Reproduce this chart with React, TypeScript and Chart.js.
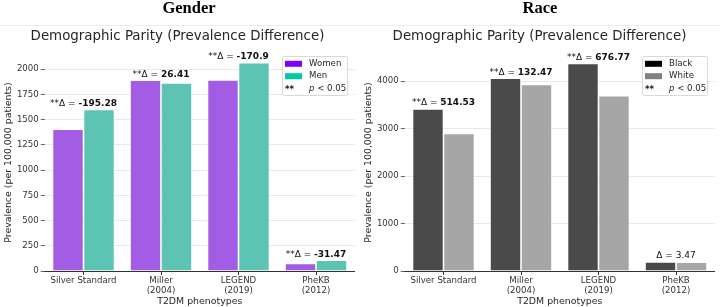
import React, { useEffect, useRef } from "react";
import { Chart, registerables } from "chart.js";

Chart.register(...registerables);

// ---------------- data ----------------
const categories: string[][] = [
  ["Silver Standard"],
  ["Miller", "(2004)"],
  ["LEGEND", "(2019)"],
  ["PheKB", "(2012)"],
];

const womenPrevalence = [1405, 1890, 1893, 76];
const menPrevalence = [1600, 1864, 2064, 108];
const genderDeltas = ["-195.28", "26.41", "-170.9", "-31.47"];
const genderSignificant = [true, true, true, true];
const genderTicks = [0, 250, 500, 750, 1000, 1250, 1500, 1750, 2000];
const genderMax = 2150;

const blackPrevalence = [3412, 4062, 4370, 190];
const whitePrevalence = [2898, 3930, 3693, 187];
const raceDeltas = ["514.53", "132.47", "676.77", "3.47"];
const raceSignificant = [true, true, true, false];
const raceTicks = [0, 1000, 2000, 3000, 4000];
const raceMax = 4570;

const FONT = "'DejaVu Sans', sans-serif";

type PanelProps = {
  heading: string;
  headingX: number;
  subtitleX: number;
  labels: [string, string];
  values: [number[], number[]];
  barColors: [string, string];
  legendColors: [string, string];
  deltas: string[];
  significant: boolean[];
  ticks: number[];
  max: number;
};

function Panel(props: PanelProps) {
  const ref = useRef<HTMLCanvasElement | null>(null);

  useEffect(() => {
    const canvas = ref.current;
    if (!canvas) return;

    const overlay = {
      id: "overlay",
      afterDatasetsDraw(chart: any) {
        const ctx = chart.ctx as CanvasRenderingContext2D;
        const xs = chart.scales.x;
        const ys = chart.scales.y;
        ctx.save();
        ctx.fillStyle = "#111";
        ctx.textBaseline = "alphabetic";
        props.deltas.forEach((d, i) => {
          const top = Math.max(props.values[0][i], props.values[1][i]);
          const x = xs.getPixelForValue(i);
          const y = ys.getPixelForValue(top) - 3.5;
          const prefix = (props.significant[i] ? "**" : "") + "Δ = ";
          const valFont = props.significant[i] ? `bold 9px ${FONT}` : `9px ${FONT}`;
          ctx.font = `9px ${FONT}`;
          const w1 = ctx.measureText(prefix).width;
          ctx.font = valFont;
          const w2 = ctx.measureText(d).width;
          const start = x - (w1 + w2) / 2;
          ctx.textAlign = "left";
          ctx.font = `9px ${FONT}`;
          ctx.fillText(prefix, start, y);
          ctx.font = valFont;
          ctx.fillText(d, start + w1, y);
        });
        ctx.restore();
      },
      afterDraw(chart: any) {
        const ctx = chart.ctx as CanvasRenderingContext2D;
        ctx.save();
        // faint separator
        ctx.strokeStyle = "#ececec";
        ctx.lineWidth = 1;
        ctx.beginPath();
        ctx.moveTo(0, 25.5);
        ctx.lineTo(360, 25.5);
        ctx.stroke();
        // heading
        ctx.fillStyle = "#000";
        ctx.textAlign = "center";
        ctx.textBaseline = "alphabetic";
        ctx.font = `bold 16.5px 'Liberation Serif', 'Times New Roman', serif`;
        ctx.fillText(props.heading, props.headingX, 12.5);
        // subtitle
        ctx.fillStyle = "#262626";
        ctx.font = `13.4px ${FONT}`;
        ctx.fillText("Demographic Parity (Prevalence Difference)", props.subtitleX, 40);

        // legend
        const lx = 282.5, ly = 56.5, lw = 65, lh = 39;
        ctx.beginPath();
        (ctx as any).roundRect(lx, ly, lw, lh, 2);
        ctx.fillStyle = "rgba(255,255,255,0.85)";
        ctx.fill();
        ctx.strokeStyle = "#d9d9d9";
        ctx.lineWidth = 1;
        ctx.stroke();
        const rows = [63.8, 76.2, 88.6];
        ctx.textAlign = "left";
        ctx.textBaseline = "middle";
        for (let r = 0; r < 2; r++) {
          ctx.fillStyle = props.legendColors[r];
          ctx.fillRect(285, rows[r] - 3, 17, 6);
          ctx.fillStyle = "#262626";
          ctx.font = `8.6px ${FONT}`;
          ctx.fillText(props.labels[r], 309, rows[r]);
        }
        ctx.fillStyle = "#111";
        ctx.font = `bold 8.6px ${FONT}`;
        ctx.fillText("**", 285, rows[2] + 1);
        ctx.fillStyle = "#262626";
        ctx.font = `italic 8.6px ${FONT}`;
        ctx.fillText("p", 309, rows[2]);
        const pw = ctx.measureText("p").width;
        ctx.font = `8.6px ${FONT}`;
        ctx.fillText(" < 0.05", 309 + pw, rows[2]);
        ctx.restore();
      },
    };

    const chart = new Chart(canvas, {
      type: "bar",
      data: {
        labels: categories,
        datasets: [
          {
            label: props.labels[0],
            data: props.values[0],
            backgroundColor: props.barColors[0],
            borderColor: "rgba(255,255,255,0.85)",
            borderWidth: 0.8,
            categoryPercentage: 0.8,
            barPercentage: 1.0,
          },
          {
            label: props.labels[1],
            data: props.values[1],
            backgroundColor: props.barColors[1],
            borderColor: "rgba(255,255,255,0.85)",
            borderWidth: 0.8,
            categoryPercentage: 0.8,
            barPercentage: 1.0,
          },
        ],
      },
      options: {
        animation: false,
        responsive: false,
        maintainAspectRatio: false,
        devicePixelRatio: 1,
        layout: { padding: { top: 54, right: 5.25, left: 0, bottom: 0 } },
        plugins: {
          legend: { display: false },
          title: { display: false },
          tooltip: { enabled: false },
        },
        scales: {
          x: {
            grid: {
              display: true,
              drawOnChartArea: false,
              drawTicks: true,
              tickLength: 4,
              tickColor: "#333",
              offset: false,
            },
            border: { display: true, color: "#333", width: 1 },
            ticks: {
              color: "#333",
              font: { family: FONT, size: 8.6, lineHeight: 1.16 },
              padding: 1,
              maxRotation: 0,
              autoSkip: false,
            },
            title: {
              display: true,
              text: "T2DM phenotypes",
              color: "#262626",
              font: { family: FONT, size: 9.4 },
              padding: { top: 0, bottom: 0 },
            },
            afterFit(scale: any) {
              scale.height = 36;
            },
          },
          y: {
            min: 0,
            max: props.max,
            grid: {
              color: "#e3e3e3",
              lineWidth: 0.8,
              drawTicks: true,
              tickLength: 4,
              tickColor: "#444",
            },
            border: { display: false },
            ticks: {
              color: "#333",
              font: { family: FONT, size: 8.6 },
              padding: 2,
              autoSkip: false,
              callback: (v: any) => String(v),
            },
            title: {
              display: true,
              text: "Prevalence (per 100,000 patients)",
              color: "#262626",
              font: { family: FONT, size: 9.4 },
              padding: { top: 3, bottom: 0 },
            },
            afterBuildTicks(scale: any) {
              scale.ticks = props.ticks.map((v) => ({ value: v }));
            },
            afterFit(scale: any) {
              scale.width = 44.75;
            },
          },
        },
      },
      plugins: [overlay],
    } as any);

    return () => chart.destroy();
  }, []);

  return <canvas ref={ref} width={360} height={307} style={{ display: "block", width: 360, height: 307 }} />;
}

export default function App() {
  useEffect(() => {
    document.body.style.margin = "0";
    document.body.style.background = "#fff";
  }, []);
  return (
    <div style={{ position: "absolute", left: 0, top: 0, width: 720, height: 307, display: "flex", background: "#fff" }}>
      <Panel
        heading="Gender"
        headingX={189}
        subtitleX={177.5}
        labels={["Women", "Men"]}
        values={[womenPrevalence, menPrevalence]}
        barColors={["#a35ce4", "#5dc4b3"]}
        legendColors={["#7f00ff", "#00c9a7"]}
        deltas={genderDeltas}
        significant={genderSignificant}
        ticks={genderTicks}
        max={genderMax}
      />
      <Panel
        heading="Race"
        headingX={180}
        subtitleX={179.5}
        labels={["Black", "White"]}
        values={[blackPrevalence, whitePrevalence]}
        barColors={["#4a4a4a", "#a6a6a6"]}
        legendColors={["#000000", "#808080"]}
        deltas={raceDeltas}
        significant={raceSignificant}
        ticks={raceTicks}
        max={raceMax}
      />
    </div>
  );
}
